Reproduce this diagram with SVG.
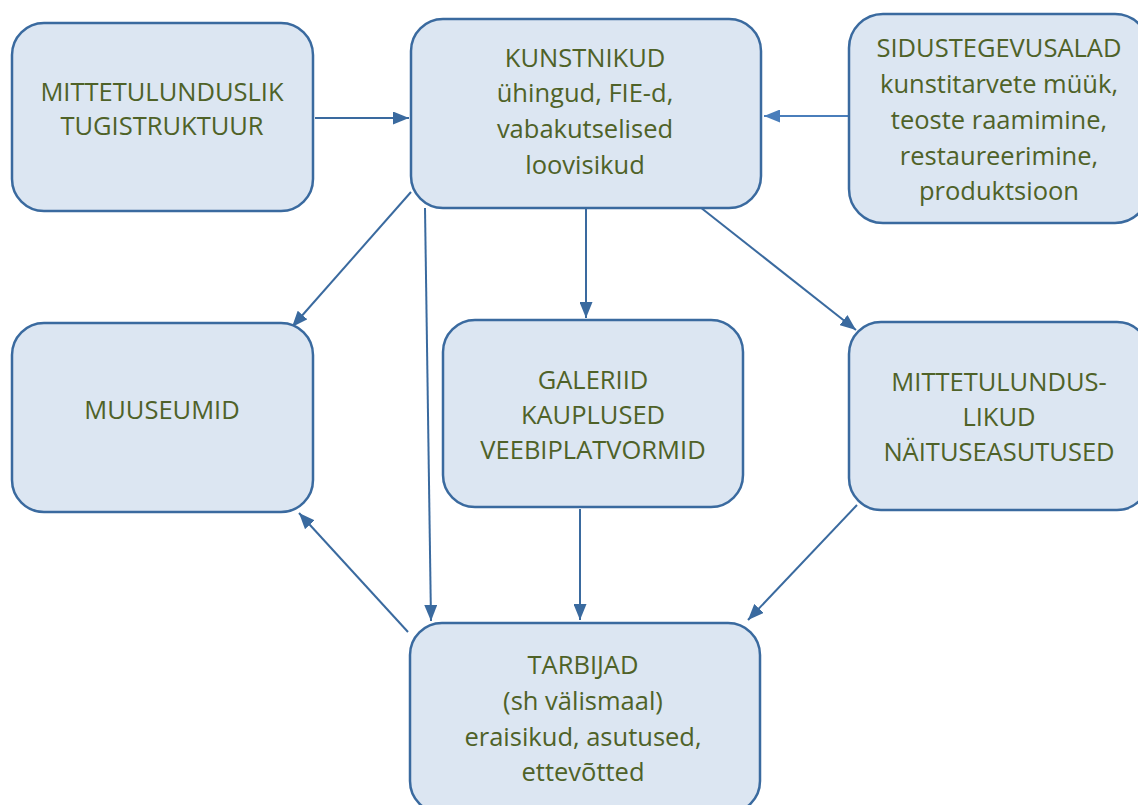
<svg xmlns="http://www.w3.org/2000/svg" width="1138" height="805" viewBox="0 0 1138 805">
<style>
.box{fill:#dce6f2;stroke:#3a6a9f;stroke-width:2.5}
.t{font-family:"Open Sans","Liberation Sans",sans-serif;font-size:25.5px;fill:#4f6228;text-anchor:middle}
.c{stroke:#3a6a9f;stroke-width:2;fill:none;marker-end:url(#ah)}
.c2{stroke:#4a7ebb;stroke-width:2;fill:none;marker-end:url(#ah2)}
</style>
<defs>
<marker id="ah" viewBox="0 0 16 13" refX="16" refY="6.5" markerWidth="16" markerHeight="13" markerUnits="userSpaceOnUse" orient="auto"><path d="M0,0 L16,6.5 L0,13 Z" fill="#3a6a9f"/></marker>
<marker id="ah2" viewBox="0 0 16 13" refX="16" refY="6.5" markerWidth="16" markerHeight="13" markerUnits="userSpaceOnUse" orient="auto"><path d="M0,0 L16,6.5 L0,13 Z" fill="#4a7ebb"/></marker>
</defs>
<g id="connectors">
<line class="c" x1="315" y1="118" x2="409" y2="118"/>
<line class="c2" x1="848" y1="116" x2="764" y2="116"/>
<line class="c" x1="411" y1="192" x2="292" y2="327"/>
<line class="c" x1="425" y1="208" x2="431" y2="621"/>
<line class="c" x1="586" y1="208" x2="586" y2="318"/>
<line class="c" x1="700" y1="207" x2="856" y2="330"/>
<line class="c" x1="408" y1="632" x2="299" y2="513"/>
<line class="c" x1="580" y1="509" x2="580" y2="620"/>
<line class="c" x1="857" y1="505" x2="748" y2="620"/>
</g>
<g id="n_tugistruktuur">
<rect class="box" x="12" y="23" width="301" height="188" rx="32"/>
<text class="t" x="162" y="101">MITTETULUNDUSLIK</text>
<text class="t" x="162" y="135">TUGISTRUKTUUR</text>
</g>
<g id="n_kunstnikud">
<rect class="box" x="411" y="19" width="350" height="189" rx="32"/>
<text class="t" x="585" y="67">KUNSTNIKUD</text>
<text class="t" x="585" y="102">ühingud, FIE-d,</text>
<text class="t" x="585" y="138">vabakutselised</text>
<text class="t" x="585" y="174">loovisikud</text>
</g>
<g id="n_sidus">
<rect class="box" x="849" y="14" width="300" height="209" rx="34"/>
<text class="t" x="999" y="57">SIDUSTEGEVUSALAD</text>
<text class="t" x="999" y="93">kunstitarvete müük,</text>
<text class="t" x="999" y="129">teoste raamimine,</text>
<text class="t" x="999" y="165">restaureerimine,</text>
<text class="t" x="999" y="200">produktsioon</text>
</g>
<g id="n_muuseumid">
<rect class="box" x="12" y="323" width="301" height="189" rx="32"/>
<text class="t" x="162" y="419">MUUSEUMID</text>
</g>
<g id="n_galeriid">
<rect class="box" x="443" y="320" width="300" height="187" rx="32"/>
<text class="t" x="593" y="389">GALERIID</text>
<text class="t" x="593" y="424">KAUPLUSED</text>
<text class="t" x="593" y="459">VEEBIPLATVORMID</text>
</g>
<g id="n_naitus">
<rect class="box" x="849" y="322" width="300" height="188" rx="32"/>
<text class="t" x="999" y="391">MITTETULUNDUS-</text>
<text class="t" x="999" y="426">LIKUD</text>
<text class="t" x="999" y="461">NÄITUSEASUTUSED</text>
</g>
<g id="n_tarbijad">
<rect class="box" x="410" y="623" width="350" height="190" rx="32"/>
<text class="t" x="583" y="674">TARBIJAD</text>
<text class="t" x="583" y="710">(sh välismaal)</text>
<text class="t" x="583" y="746">eraisikud, asutused,</text>
<text class="t" x="583" y="781">ettevõtted</text>
</g>
</svg>
